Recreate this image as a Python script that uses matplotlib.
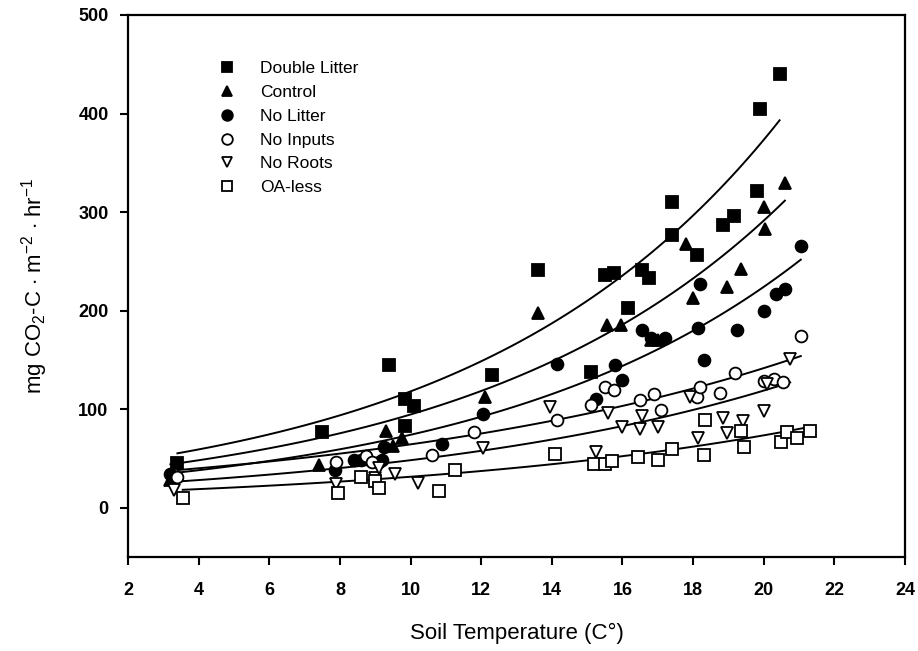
import numpy as np
import matplotlib
matplotlib.use("Agg")
import matplotlib.pyplot as plt

plt.rcParams['font.family'] = ['Liberation Sans', 'DejaVu Sans']
plt.rcParams['mathtext.fontset'] = 'custom'
plt.rcParams['mathtext.rm'] = 'Liberation Sans'
plt.rcParams['mathtext.it'] = 'Liberation Sans'

# soil temperature (C) / CO2 efflux values
dl_x = [3.4, 7.5, 9.4, 9.85, 9.85, 10.1, 12.3, 13.6, 15.1, 15.5, 15.75, 16.15, 16.55, 16.75,
        17.4, 17.4, 18.1, 18.85, 19.15, 19.8, 19.9, 20.45]
dl_y = [45, 77, 145, 110, 83, 103, 135, 241, 138, 236, 238, 203, 241, 233,
        310, 277, 256, 287, 296, 321, 405, 440]

ct_x = [3.2, 7.4, 9.3, 9.5, 9.75, 12.1, 13.6, 15.55, 15.95, 16.8, 17.0, 17.8, 18.0,
        18.95, 19.35, 20.0, 20.05, 20.6]
ct_y = [28, 43, 78, 63, 71, 112, 198, 185, 185, 170, 170, 268, 213,
        224, 242, 305, 283, 330]

nl_x = [3.2, 7.85, 8.4, 8.6, 9.1, 9.2, 9.25, 10.9, 12.05, 14.15, 15.25, 15.8, 16.0, 16.55,
        16.8, 17.2, 18.15, 18.2, 18.3, 19.25, 20.0, 20.35, 20.6, 21.05]
nl_y = [34, 38, 48, 48, 46, 48, 62, 65, 95, 146, 110, 145, 130, 180,
        172, 172, 182, 227, 150, 180, 200, 217, 222, 266]

ni_x = [3.4, 7.9, 8.75, 8.9, 10.6, 11.8, 14.15, 15.1, 15.5, 15.75, 16.5, 16.9, 17.1, 18.1,
        18.2, 18.75, 19.2, 20.0, 20.3, 20.55, 21.05]
ni_y = [31, 46, 52, 46, 54, 77, 89, 104, 123, 119, 109, 115, 99, 112,
        122, 116, 137, 129, 131, 128, 174]

nr_x = [3.3, 7.9, 9.0, 9.1, 9.55, 10.2, 12.05, 13.95, 15.25, 15.6, 16.0, 16.5, 16.55, 17.0,
        17.9, 18.15, 18.85, 18.95, 19.4, 20.0, 20.1, 20.75]
nr_y = [18, 24, 30, 40, 34, 25, 61, 102, 57, 96, 82, 80, 93, 82,
        112, 71, 91, 76, 88, 98, 126, 151]

oa_x = [3.55, 7.95, 8.6, 9.0, 9.1, 10.8, 11.25, 14.1, 15.2, 15.5, 15.7, 16.45, 17.0, 17.4,
        18.3, 18.35, 19.35, 19.45, 20.5, 20.65, 20.95, 21.3]
oa_y = [10, 15, 31, 27, 20, 17, 38, 55, 44, 44, 47, 51, 48, 60,
        54, 89, 78, 62, 67, 77, 71, 78]

series = [
    ("Double Litter", dl_x, dl_y, 's', 'black'),
    ("Control", ct_x, ct_y, '^', 'black'),
    ("No Litter", nl_x, nl_y, 'o', 'black'),
    ("No Inputs", ni_x, ni_y, 'o', 'white'),
    ("No Roots", nr_x, nr_y, 'v', 'white'),
    ("OA-less", oa_x, oa_y, 's', 'white'),
]


def fit_exp(x, y):
    # exponential fit y = a*exp(b*x), log fit weighted by y
    x = np.asarray(x, float)
    y = np.asarray(y, float)
    b, lna = np.polyfit(x, np.log(y), 1, w=y)
    xs = np.linspace(x.min(), x.max(), 100)
    return xs, np.exp(lna) * np.exp(b * xs)


fig = plt.figure(figsize=(9.18, 6.51), dpi=100)
ax = fig.add_axes([0.1394, 0.1444, 0.8464, 0.8326])

for name, x, y, mk, fc in series:
    xs, ys = fit_exp(x, y)
    ax.plot(xs, ys, color='black', lw=1.4, zorder=2)
for name, x, y, mk, fc in series:
    ax.plot(x, y, linestyle='none', marker=mk, markersize=8.5 if mk != 's' else 8,
            markerfacecolor=fc, markeredgecolor='black', markeredgewidth=1.3,
            label=name, zorder=3)

ax.set_xlim(2, 24)
ax.set_ylim(-50, 500)
ax.set_xticks(range(2, 25, 2))
ax.set_yticks([0, 100, 200, 300, 400, 500])
ax.tick_params(axis='both', direction='out', length=6, width=1.5, labelsize=13, pad=8)
ax.tick_params(axis='x', pad=12)
for lab in ax.get_xticklabels() + ax.get_yticklabels():
    lab.set_fontweight('bold')
for sp in ax.spines.values():
    sp.set_linewidth(1.6)

ax.set_xlabel("Soil Temperature (C\u00b0)", fontsize=16, labelpad=17)
ax.set_ylabel(r"mg CO$_2$-C $\cdot$ m$^{-2}$ $\cdot$ hr$^{-1}$", fontsize=16, labelpad=20)

ax.legend(loc='upper left', bbox_to_anchor=(0.105, 0.928), frameon=False, fontsize=12.5,
          handletextpad=1.3, labelspacing=0.5, borderaxespad=0, handlelength=1.2,
          markerscale=0.9)

fig.savefig("out.png", dpi=100)
